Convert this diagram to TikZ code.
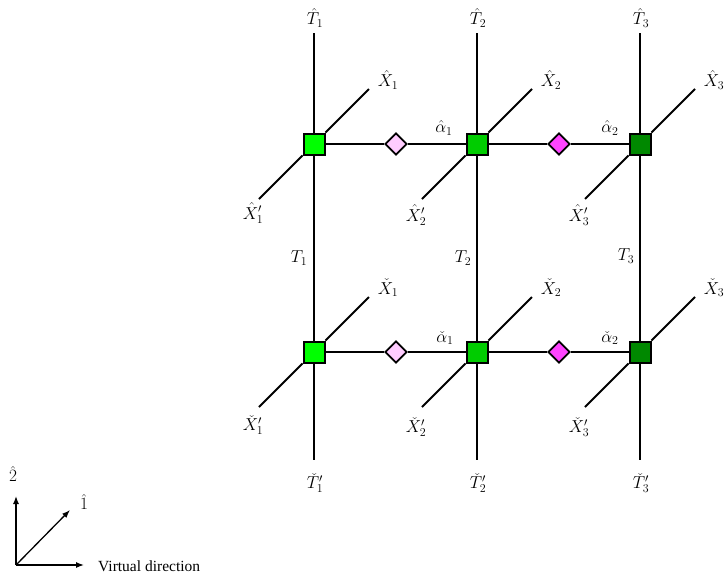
\documentclass[tikz,border=0pt]{standalone}
\usepackage{amsmath}
\usepackage{fontspec}
\newfontfamily\timesf{Liberation Serif}
\usetikzlibrary{arrows.meta,shapes.geometric}
\definecolor{gA}{HTML}{00FF00}
\definecolor{gB}{HTML}{00CC00}
\definecolor{gC}{HTML}{008800}
\definecolor{pA}{HTML}{FFCCFF}
\definecolor{pB}{HTML}{FF44FF}
\tikzset{
  tensor/.style={draw=black, line width=2pt, minimum size=21pt, inner sep=0pt, rectangle},
  weight/.style={draw=black, line width=1.7pt, diamond, minimum size=22pt, inner sep=0pt},
  bond/.style={line width=2pt},
  lab/.style={font=\fontsize{17}{19}\selectfont, inner sep=0pt},
  axis/.style={line width=1.3pt, -{Latex[length=8pt,width=6pt]}}
}
\begin{document}
\begin{tikzpicture}[x=1pt,y=-1pt]
\useasboundingbox (0,0) rectangle (724,576);
% squares
\node[tensor, fill=gA] (s11) at (314,144) {};
\node[tensor, fill=gB] (s12) at (477,144) {};
\node[tensor, fill=gC] (s13) at (640,144) {};
\node[tensor, fill=gA] (s21) at (314,352) {};
\node[tensor, fill=gB] (s22) at (477,352) {};
\node[tensor, fill=gC] (s23) at (640,352) {};
% diamonds
\node[weight, fill=pA] (d11) at (396,144) {};
\node[weight, fill=pB] (d12) at (559,144) {};
\node[weight, fill=pA] (d21) at (396,352) {};
\node[weight, fill=pB] (d22) at (559,352) {};
% free ends
\foreach \c/\x in {1/314,2/477,3/640}{
  \coordinate (tt\c) at (\x,33);
  \coordinate (bt\c) at (\x,460);
  \coordinate (ur1\c) at (\x+55,89);
  \coordinate (dl1\c) at (\x-55,199);
  \coordinate (ur2\c) at (\x+55,297);
  \coordinate (dl2\c) at (\x-55,407);
}
% bonds
\foreach \c in {1,2,3}{
  \draw[bond] (tt\c) -- (s1\c);
  \draw[bond] (s1\c) -- (s2\c);
  \draw[bond] (s2\c) -- (bt\c);
  \draw[bond] (s1\c) -- (ur1\c);
  \draw[bond] (s1\c) -- (dl1\c);
  \draw[bond] (s2\c) -- (ur2\c);
  \draw[bond] (s2\c) -- (dl2\c);
}
\draw[bond] (s11) -- (d11);
\draw[bond] (d11) -- (s12);
\draw[bond] (s12) -- (d12);
\draw[bond] (d12) -- (s13);
\draw[bond] (s21) -- (d21);
\draw[bond] (d21) -- (s22);
\draw[bond] (s22) -- (d22);
\draw[bond] (d22) -- (s23);
% labels
\node[lab] (lT1) at (315,18) {$\hat{T}_1$};
\node[lab] (lT2) at (478,18) {$\hat{T}_2$};
\node[lab] (lT3) at (641,18) {$\hat{T}_3$};
\node[lab] (lX1) at (388,80) {$\hat{X}_1$};
\node[lab] (lX2) at (551,80) {$\hat{X}_2$};
\node[lab] (lX3) at (714,80) {$\hat{X}_3$};
\node[lab] (la1) at (444,128) {$\hat{\alpha}_1$};
\node[lab] (la2) at (610,128) {$\hat{\alpha}_2$};
\node[lab] (lXp1) at (253,213) {$\hat{X}'_1$};
\node[lab] (lXp2) at (416,215) {$\hat{X}'_2$};
\node[lab] (lXp3) at (579,215) {$\hat{X}'_3$};
\node[lab] (lm1) at (299,258) {$T_1$};
\node[lab] (lm2) at (463,258) {$T_2$};
\node[lab] (lm3) at (626,256) {$T_3$};
\node[lab] (lY1) at (388,288) {$\check{X}_1$};
\node[lab] (lY2) at (551,288) {$\check{X}_2$};
\node[lab] (lY3) at (714,288) {$\check{X}_3$};
\node[lab] (lb1) at (445,338) {$\check{\alpha}_1$};
\node[lab] (lb2) at (610,338) {$\check{\alpha}_2$};
\node[lab] (lYp1) at (253,425) {$\check{X}'_1$};
\node[lab] (lYp2) at (416,427) {$\check{X}'_2$};
\node[lab] (lYp3) at (579,427) {$\check{X}'_3$};
\node[lab] (lB1) at (315,483) {$\check{T}'_1$};
\node[lab] (lB2) at (478,483) {$\check{T}'_2$};
\node[lab] (lB3) at (641,483) {$\check{T}'_3$};
% axes
\coordinate (o) at (16,565);
\coordinate (a2) at (16,496);
\coordinate (a1) at (70,510);
\coordinate (av) at (84,565);
\draw[axis] (o) -- (a2);
\draw[axis] (o) -- (a1);
\draw[axis] (o) -- (av);
\node[lab] (l2) at (13,474) {$\hat{2}$};
\node[lab] (l1) at (84,502) {$\hat{1}$};
\node[lab, anchor=west, font=\timesf\fontsize{15.5}{17}\selectfont] (lv) at (98,566) {Virtual direction};
\end{tikzpicture}
\end{document}
